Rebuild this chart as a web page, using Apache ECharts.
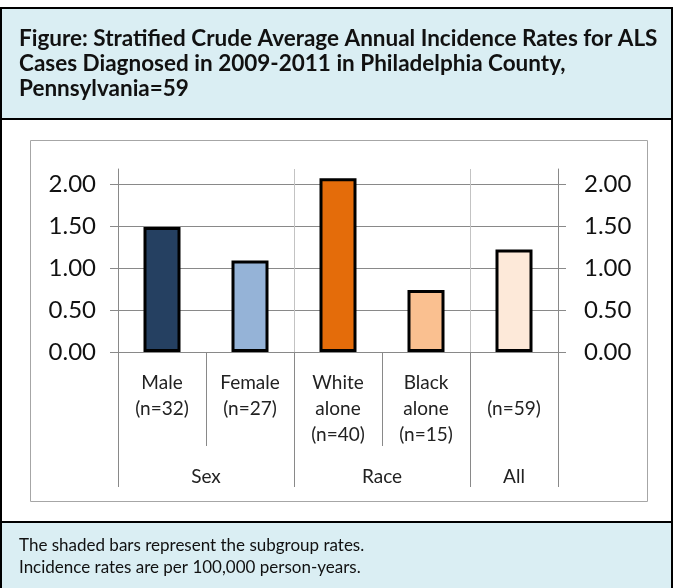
<!DOCTYPE html>
<html>
<head>
<meta charset="utf-8">
<script src="https://cdn.jsdelivr.net/npm/echarts@6/dist/echarts.min.js"></script>
<style>
  html, body { margin: 0; padding: 0; background: #fff; }
  #chart { width: 674px; height: 588px; }
</style>
</head>
<body>
<div id="chart"></div>
<script>
// categories (first level) and the rates
var categories = ['Male\n(n=32)', 'Female\n(n=27)', 'White\nalone\n(n=40)', 'Black\nalone\n(n=15)', '\n(n=59)'];
var rates = [1.49, 1.09, 2.07, 0.74, 1.22];
// second level: group names on a half-step axis (11 slots)
var groupSlots = ['', '', 'Sex', '', '', '', 'Race', '', '', 'All', ''];
var groupEdges = [0, 4, 8, 10];
var yTicks = [0, 0.5, 1, 1.5, 2];

var titleText = 'Figure: Stratified Crude Average Annual Incidence Rates for ALS\nCases Diagnosed in 2009-2011 in Philadelphia County,\nPennsylvania=59';
var noteText = 'The shaded bars represent the subgroup rates.\nIncidence rates are per 100,000 person-years.';

var barColors = ['#254061', '#95b3d7', '#e46c0a', '#fac090', '#fde9d9'];
var font = 'Lato, "Open Sans", sans-serif';
var gridGray = '#898989';

var myChart = echarts.init(document.getElementById('chart'));

myChart.setOption({
    animation: false,
    textStyle: { fontFamily: font },
    // boxes round the figure
    graphic: [
        { type: 'rect', z: -10, shape: { x: 1, y: 8, width: 671, height: 111 },
          style: { fill: '#daeef3', stroke: '#000', lineWidth: 2 } },
        { type: 'rect', z: -10, shape: { x: 1, y: 119, width: 671, height: 403 },
          style: { fill: '#fff', stroke: '#000', lineWidth: 2 } },
        { type: 'rect', z: -10, shape: { x: 1, y: 522, width: 671, height: 70 },
          style: { fill: '#daeef3', stroke: '#000', lineWidth: 2 } },
        { type: 'rect', z: -9, shape: { x: 30.5, y: 140.5, width: 617, height: 361 },
          style: { fill: 'none', stroke: '#a6a6a6', lineWidth: 1 } }
    ],
    title: [{
        text: titleText,
        left: 14, top: 21,
        textStyle: { fontFamily: font, fontSize: 22.5, fontWeight: 'bold', lineHeight: 25, color: '#111' }
    }, {
        text: noteText,
        left: 14, top: 530,
        textStyle: { fontFamily: font, fontSize: 17, fontWeight: 'normal', lineHeight: 22, color: '#111' }
    }],
    grid: { left: 118, right: 116, top: 169, bottom: 236, containLabel: false },
    xAxis: [{
        type: 'category',
        data: categories,
        position: 'bottom',
        axisLine: { show: true, lineStyle: { color: gridGray, width: 1 } },
        axisTick: { show: true, length: 94, lineStyle: { color: gridGray } },
        axisLabel: { interval: 0, margin: 18, fontSize: 19, lineHeight: 26, color: '#222', fontFamily: font },
        splitLine: { show: false }
    }, {
        type: 'category',
        data: groupSlots,
        position: 'bottom',
        boundaryGap: false,
        axisLine: { show: false },
        axisTick: {
            show: true, length: 135, lineStyle: { color: gridGray },
            interval: function (i) { return groupEdges.indexOf(i) >= 0; }
        },
        axisLabel: { interval: 0, margin: 115, fontSize: 19, lineHeight: 20, color: '#222', fontFamily: font },
        splitLine: {
            show: true, lineStyle: { color: '#c3c3c3' },
            interval: function (i) { return i === 4 || i === 8; }
        }
    }],
    yAxis: [{
        type: 'value', min: 0, max: 2.18, interval: 0.5, position: 'left',
        axisLine: { show: true, lineStyle: { color: gridGray } },
        axisTick: { show: true, length: 8, customValues: yTicks, lineStyle: { color: gridGray } },
        axisLabel: {
            margin: 22, fontSize: 24, color: '#111', fontFamily: font, customValues: yTicks,
            formatter: function (v) { return v.toFixed(2); }
        },
        splitLine: { show: true, lineStyle: { color: gridGray } }
    }, {
        type: 'value', min: 0, max: 2.18, interval: 0.5, position: 'right',
        axisLine: { show: true, lineStyle: { color: gridGray } },
        axisTick: { show: true, length: 8, customValues: yTicks, lineStyle: { color: gridGray } },
        axisLabel: {
            margin: 26, fontSize: 24, color: '#111', fontFamily: font, customValues: yTicks,
            formatter: function (v) { return v.toFixed(2); }
        },
        splitLine: { show: false }
    }],
    series: [{
        type: 'bar',
        xAxisIndex: 0,
        yAxisIndex: 0,
        barWidth: 37,
        data: rates.map(function (v, i) {
            return { value: v, itemStyle: { color: barColors[i] } };
        }),
        itemStyle: { borderColor: '#000', borderWidth: 3 }
    }]
});
</script>
</body>
</html>
